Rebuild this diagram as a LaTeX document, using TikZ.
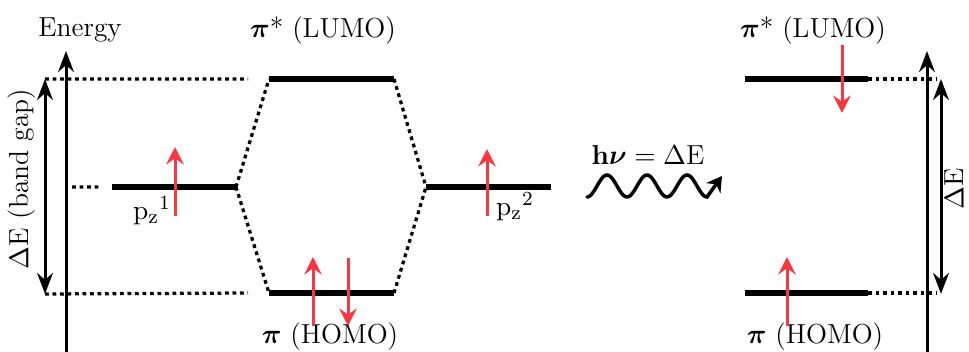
\documentclass[tikz,border=0pt]{standalone}
\usepackage{amsmath,amssymb,bm}
\usepackage{tikz}
\usetikzlibrary{arrows.meta,calc,positioning}
\definecolor{SpinRed}{RGB}{250,55,65}

\begin{document}
\begin{tikzpicture}[x=0.4pt,y=-0.4pt,>=Stealth,
    every node/.style={font=\fontsize{11}{13}\selectfont},
    level/.style={line width=2.4pt},
    guide/.style={line width=1.3pt,dash pattern=on 1.5pt off 1.5pt},
    spin/.style={->,line width=1.2pt,SpinRed,>={Stealth[length=7pt,width=7pt,inset=2.5pt]}},
    axis/.style={line width=1.2pt}]
      \useasboundingbox (0,0) rectangle (969,352);
      % orbital levels
      \coordinate (Pa1) at (112,187);
      \coordinate (Pa2) at (236,187);
      \coordinate (Lu1) at (269,79);
      \coordinate (Lu2) at (394,79);
      \coordinate (Ho1) at (269,293);
      \coordinate (Ho2) at (394,293);
      \coordinate (Pb1) at (426,187);
      \coordinate (Pb2) at (551,187);
      \coordinate (Lx1) at (745,79);
      \coordinate (Lx2) at (868,79);
      \coordinate (Hx1) at (745,293);
      \coordinate (Hx2) at (868,293);
      \draw[level] (Pa1)--(Pa2);
      \draw[level] (Lu1)--(Lu2);
      \draw[level] (Ho1)--(Ho2);
      \draw[level] (Pb1)--(Pb2);
      \draw[level] (Lx1)--(Lx2);
      \draw[level] (Hx1)--(Hx2);
      \draw[guide] (Pa2)--(Lu1) (Pa2)--(Ho1) (Lu2)--(Pb1) (Ho2)--(Pb1);
      % left energy scale
      \coordinate (Eb) at (66,360);
      \coordinate (Et) at (66,51);
      \draw[axis,->] (Eb)--(Et);
      \node (energy) at (80,30) {Energy};
      \coordinate (Gt) at (45,79);
      \coordinate (Gb) at (45,294);
      \draw[guide] (Gt)--(248,79) (Gb)--(248,293) (72,187)--(101,187);
      \draw[axis,<->] (Gt)--(Gb) node[midway,rotate=90,above=3pt] (gap) {$\Delta$E (band gap)};
      % right energy scale
      \coordinate (Fb) at (927,360);
      \coordinate (Ft) at (927,51);
      \draw[axis,->] (Fb)--(Ft);
      \coordinate (Rt) at (941,79);
      \coordinate (Rb) at (941,294);
      \draw[guide] (Lx2)--(936,79) (Hx2)--(936,293);
      \draw[axis,<->] (Rt)--(Rb) node[midway,rotate=90,below=1pt,inner sep=1pt] (gapR) {$\Delta$E};
      % labels
      \node (lumo) at (323,31) {$\bm{\pi}$* (LUMO)};
      \node (homo) at (330,337) {$\bm{\pi}$ (HOMO)};
      \node (lumoR) at (813,31) {$\bm{\pi}$* (LUMO)};
      \node (homoR) at (815,337) {$\bm{\pi}$ (HOMO)};
      \node (pz1) at (152,211) {$\mathrm{p_z}^1$};
      \node (pz2) at (515,207) {$\mathrm{p_z}^2$};
      % electrons
      \draw[spin] (175,216)--(175,147);
      \draw[spin] (487,216)--(487,149);
      \draw[spin] (313,326)--(313,257);
      \draw[spin] (348,258)--(348,326);
      \draw[spin] (842,45)--(842,113);
      \draw[spin] (787,326)--(787,257);
      % photon
      \node (hv) at (648,155) {$\mathbf{h}\bm{\nu}=\Delta$E};
      \draw[line width=1.4pt,-{Stealth[length=6pt,width=7pt]},line cap=round]
        plot[domain=0:120,samples=80] ({587+\x},{186+11*cos(9*\x)}) -- (722,176);
    \end{tikzpicture}
\end{document}
